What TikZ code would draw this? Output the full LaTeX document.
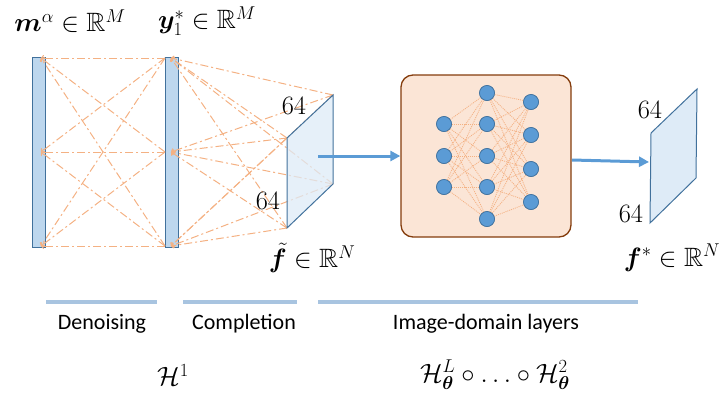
\RequirePackage{fix-cm}
\documentclass[tikz,border=0pt]{standalone}
\usepackage{amsmath,amssymb,bm}
\usepackage{fontspec}
\newfontfamily\calib{Carlito}
\usetikzlibrary{arrows.meta}
\definecolor{barfill}{HTML}{BDD7EE}
\definecolor{barline}{HTML}{41719C}
\definecolor{parfill}{HTML}{DEEBF7}
\definecolor{dashc}{HTML}{F4B183}
\definecolor{bluearr}{HTML}{5B9BD5}
\definecolor{boxfill}{HTML}{FBE5D6}
\definecolor{boxline}{HTML}{843C0C}
\definecolor{under}{HTML}{A8C4E0}
\tikzset{
  bar/.style={draw=barline, fill=barfill, line width=0.8pt, minimum width=13pt, minimum height=190pt, inner sep=0pt},
  conn/.style={draw=dashc, line width=1pt, dash pattern=on 8pt off 3pt on 2pt off 3pt, -{To[length=3pt,width=6pt]}},
  para/.style={draw=barline, fill=parfill, fill opacity=0.75, line width=1pt},
  bigarr/.style={draw=bluearr, line width=3pt, -{Triangle[length=10pt,width=10pt]}},
  nn/.style={circle, draw=barline, fill=bluearr, line width=0.6pt, minimum size=15pt, inner sep=0pt},
  nnline/.style={draw=dashc, line width=0.8pt, dash pattern=on 1pt off 1pt},
  mlab/.style={font=\fontsize{26.5}{30}\selectfont, inner sep=0pt},
  slab/.style={font=\calib\fontsize{22}{26}\selectfont, inner sep=0pt, anchor=base},
  uline/.style={draw=under, line width=4pt},
}
\begin{document}
\begin{tikzpicture}[x=1pt,y=-1pt]
\useasboundingbox (0,0) rectangle (722,394);
% bars
\node[bar] (b1) at (38.5,152) {};
\node[bar] (b2) at (171.5,152) {};
% bar anchor coordinates
\coordinate (a1) at (41,58);
\coordinate (a2) at (41,152);
\coordinate (a3) at (41,246);
\coordinate (s1) at (165,58);
\coordinate (s2) at (165,152);
\coordinate (s3) at (165,246);
\coordinate (t1) at (171,58);
\coordinate (t2) at (171,152);
\coordinate (t3) at (171,246);
% parallelogram 1 corners
\coordinate (p1) at (287,138);
\coordinate (p2) at (333,95);
\coordinate (p3) at (333,184);
\coordinate (p4) at (287,228);
% denoising connections
\foreach \s in {s1,s2,s3}{
  \foreach \a in {a1,a2,a3}{
    \draw[conn] (\s) -- (\a);
  }
}
% completion connections
\foreach \p in {p1,p2,p3,p4}{
  \foreach \t in {t1,t2,t3}{
    \draw[conn] (\p) -- (\t);
  }
}
\filldraw[para] (p1) -- (p2) -- (p3) -- (p4) -- cycle;
% labels
\node[mlab] (lm) at (70,21) {$\boldsymbol{m}^{\alpha}\in\mathbb{R}^M$};
\node[mlab] (ly) at (207,21) {$\boldsymbol{y}_1^{*}\in\mathbb{R}^M$};
\node[mlab] (l64a) at (294,106) {$64$};
\node[mlab] (l64b) at (268,201) {$64$};
\node[mlab] (lf) at (312,258) {$\tilde{\boldsymbol{f}}\in\mathbb{R}^N$};
% box with network
\node[draw=boxline, fill=boxfill, line width=1.3pt, rounded corners=12pt, minimum width=170pt, minimum height=162pt] (box) at (486,156) {};
\node[nn] (na1) at (444,124) {};
\node[nn] (na2) at (444,156) {};
\node[nn] (na3) at (444,187) {};
\node[nn] (nb1) at (487,93) {};
\node[nn] (nb2) at (487,124) {};
\node[nn] (nb3) at (487,156) {};
\node[nn] (nb4) at (487,187) {};
\node[nn] (nb5) at (487,219) {};
\node[nn] (nc1) at (531,102) {};
\node[nn] (nc2) at (531,135) {};
\node[nn] (nc3) at (531,169) {};
\node[nn] (nc4) at (531,202) {};
\foreach \i in {1,2,3}{
  \foreach \j in {1,...,5}{
    \draw[nnline] (na\i) -- (nb\j);
  }
}
\foreach \j in {1,...,5}{
  \foreach \k in {1,...,4}{
    \draw[nnline] (nb\j) -- (nc\k);
  }
}
% redraw nodes on top of their links
\foreach \n in {na1,na2,na3,nb1,nb2,nb3,nb4,nb5,nc1,nc2,nc3,nc4}{
  \node[nn] at (\n) {};
}
% arrows
\coordinate (arr1s) at (318,156);
\draw[bigarr] (arr1s) -- (box.west);
\coordinate (arr2s) at (572,160);
\coordinate (arr2e) at (649,162);
\draw[bigarr] (arr2s) -- (arr2e);
% parallelogram 2
\coordinate (q1) at (651,133);
\coordinate (q2) at (697,89);
\coordinate (q3) at (696,178);
\coordinate (q4) at (650,223);
\filldraw[para, fill opacity=1] (q1) -- (q2) -- (q3) -- (q4) -- cycle;
\node[mlab] (l64c) at (650,110) {$64$};
\node[mlab] (l64d) at (631,214) {$64$};
\node[mlab] (lfs) at (672,258) {$\boldsymbol{f}^{*}\in\mathbb{R}^N$};
% bottom
\coordinate (u1a) at (46,302); \coordinate (u1b) at (157,302);
\coordinate (u2a) at (183,302); \coordinate (u2b) at (297,302);
\coordinate (u3a) at (318,302); \coordinate (u3b) at (638,302);
\draw[uline] (u1a) -- (u1b);
\draw[uline] (u2a) -- (u2b);
\draw[uline] (u3a) -- (u3b);
\node[slab] (den) at (102,329) {Denoising};
\node[slab] (com) at (244,329) {Completion};
\node[slab] (img) at (486,329) {Image-domain layers};
\node[mlab] (h1) at (173,375) {$\mathcal{H}^1$};
\node[mlab] (hl) at (495,375) {$\mathcal{H}^L_{\boldsymbol{\theta}}\circ\ldots\circ\mathcal{H}^2_{\boldsymbol{\theta}}$};
\end{tikzpicture}
\end{document}
